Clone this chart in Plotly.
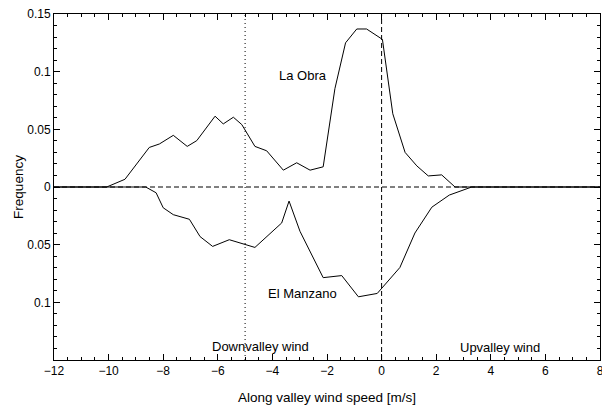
import plotly.graph_objects as go

# La Obra (upper curve)
obra_x = [-12, -10.07, -9.40, -8.51, -8.14, -7.63, -7.12, -6.77, -6.10, -5.80, -5.43, -5.12,
          -4.64, -4.21, -3.60, -3.11, -2.62, -2.14, -1.71, -1.32, -0.91, -0.55, 0.03, 0.41,
          0.86, 1.29, 1.71, 2.20, 2.69, 8]
obra_y = [0, 0, 0.0067, 0.0343, 0.0373, 0.0448, 0.0352, 0.0402, 0.0614, 0.0547, 0.0605, 0.0541,
          0.0352, 0.0314, 0.0146, 0.0210, 0.0146, 0.0175, 0.0853, 0.125, 0.137, 0.137, 0.128, 0.0635,
          0.0300, 0.0183, 0.0096, 0.0105, 0, 0]

# El Manzano (lower curve, plotted downward)
manz_x = [-12, -8.64, -8.26, -8.0, -7.63, -7.04, -6.65, -6.19, -5.58, -4.64, -3.66, -3.39,
          -2.99, -2.14, -1.46, -0.85, -0.16, 0.67, 1.22, 1.84, 2.48, 3.30, 8]
manz_y = [0, 0, -0.005, -0.018, -0.024, -0.028, -0.043, -0.0515, -0.0457, -0.0524, -0.0312, -0.0122,
          -0.0384, -0.0786, -0.0768, -0.0952, -0.0923, -0.0698, -0.0399, -0.0175, -0.007, 0, 0]

x_ticks = [-12, -10, -8, -6, -4, -2, 0, 2, 4, 6, 8]
y_tickvals = [-0.1, -0.05, 0, 0.05, 0.1, 0.15]
y_ticktext = ["0.1", "0.05", "0", "0.05", "0.1", "0.15"]

FONT = "Liberation Sans, Arial, sans-serif"

fig = go.Figure()
fig.add_trace(go.Scatter(x=obra_x, y=obra_y, mode="lines",
                         line=dict(color="black", width=1), showlegend=False))
fig.add_trace(go.Scatter(x=manz_x, y=manz_y, mode="lines",
                         line=dict(color="black", width=1), showlegend=False))

# reference lines
fig.add_shape(type="line", xref="x", yref="y", x0=-12, x1=8, y0=0, y1=0,
              line=dict(color="black", width=1, dash="5px,3px"), layer="below")
fig.add_shape(type="line", xref="x", yref="paper", x0=0, x1=0, y0=0, y1=1,
              line=dict(color="black", width=1, dash="5px,3px"))
fig.add_shape(type="line", xref="x", yref="paper", x0=-5, x1=-5, y0=0, y1=1,
              line=dict(color="black", width=1, dash="1px,3px"))

ann_font = dict(family=FONT, size=13, color="black")
for txt, ax, ay in [("La Obra", -2.88, 0.097), ("El Manzano", -2.88, -0.0925),
                    ("Downvalley wind", -4.42, -0.138), ("Upvalley wind", 4.34, -0.139)]:
    fig.add_annotation(x=ax, y=ay, text=txt, showarrow=False, font=ann_font,
                       xanchor="center", yanchor="middle")

axis_common = dict(showgrid=False, zeroline=False, showline=True, linecolor="black",
                   linewidth=1, mirror="ticks", ticks="inside", ticklen=6, tickcolor="black",
                   tickwidth=1, tickfont=dict(family=FONT, size=12, color="black"),
                   automargin=False)

fig.update_xaxes(range=[-12, 8], tickvals=x_ticks, ticklabeloverflow="allow",
                 minor=dict(ticks="inside", dtick=0.5, ticklen=3, tickcolor="black", showgrid=False),
                 title=dict(text="Along valley wind speed [m/s]",
                            font=dict(family=FONT, size=13.5, color="black"), standoff=15),
                 **axis_common)
fig.update_yaxes(range=[-0.15, 0.15], tickvals=y_tickvals, ticktext=y_ticktext,
                 minor=dict(ticks="inside", dtick=0.01, ticklen=3, tickcolor="black", showgrid=False),
                 title=dict(text="Frequency", font=dict(family=FONT, size=13.5, color="black"),
                            standoff=0),
                 **axis_common)

fig.update_layout(width=602, height=406, margin=dict(l=54, r=2, t=14, b=46),
                  plot_bgcolor="white", paper_bgcolor="white",
                  font=dict(family=FONT, color="black"))

fig.write_html("out.html")
